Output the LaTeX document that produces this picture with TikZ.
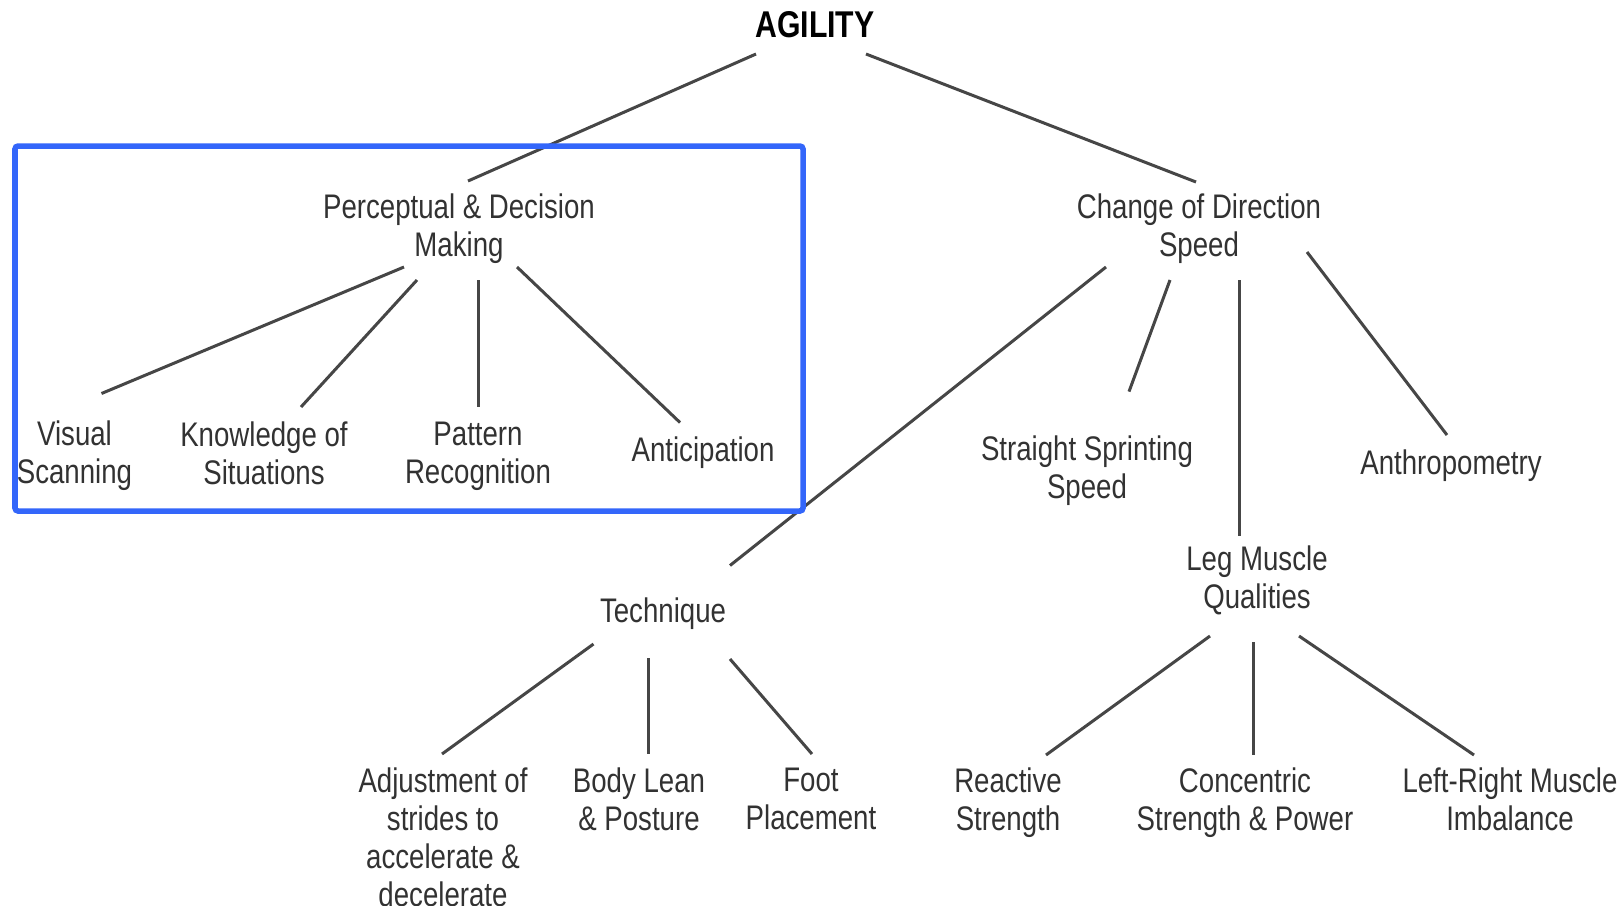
\documentclass[tikz,border=0pt]{standalone}
\usepackage{fontspec}
\setmainfont[FakeStretch=0.81]{Liberation Sans}
\usetikzlibrary{calc}
\definecolor{boxblue}{RGB}{51,102,250}
\definecolor{linegray}{RGB}{70,70,70}
\definecolor{textgray}{RGB}{50,50,50}

\begin{document}
\begin{tikzpicture}[x=0.01cm, y=-0.01cm,
		item/.style={align=center, text=textgray, inner sep=0pt, font=\fontsize{9.7pt}{10.8pt}\selectfont},
		link/.style={linegray, line width=0.03cm}]
		\useasboundingbox (0,0) rectangle (1624,905);

		% top
		\node[inner sep=0pt, font=\fontsize{10.6pt}{12pt}\selectfont\bfseries] (agility) at (815,24.5) {AGILITY};
		\node[item] (perc) at (459,229) {Perceptual \& Decision\\Making};
		\node[item] (cods) at (1199,229) {Change of Direction\\Speed};

		% perceptual branch
		\node[item] (visual) at (74.5,455.5) {Visual\\Scanning};
		\node[item] (knowledge) at (264,453) {Knowledge of\\Situations};
		\node[item] (pattern) at (478,456.5) {Pattern\\Recognition};
		\node[item] (anticip) at (703,453) {Anticipation};

		% change of direction branch
		\node[item] (sprint) at (1087,470.6) {Straight Sprinting\\Speed};
		\node[item] (anthro) at (1451,465.5) {Anthropometry};
		\node[item] (technique) at (663,614) {Technique};
		\node[item] (leg) at (1257,580.5) {Leg Muscle\\Qualities};

		\node[item] (adjust) at (443,837) {Adjustment of\\strides to\\accelerate \&\\decelerate};
		\node[item] (body) at (639,799) {Body Lean\\\& Posture};
		\node[item] (foot) at (811,799) {Foot\\Placement};
		\node[item] (reactive) at (1008,802.5) {Reactive\\Strength};
		\node[item] (concentric) at (1245,802.5) {Concentric\\Strength \& Power};
		\node[item] (leftright) at (1510,799) {Left-Right Muscle\\Imbalance};

		% links
		\draw[link] ($(agility)+(-59,29.5)$) -- ($(perc)+(9,-48)$);
		\draw[link] ($(agility)+(51,29.5)$) -- ($(cods)+(-3,-47)$);

		\draw[link] ($(perc)+(-55,38)$) -- ($(visual)+(27,-62)$);
		\draw[link] ($(perc)+(-42,51)$) -- ($(knowledge)+(37,-46)$);
		\draw[link] ($(perc)+(19.5,51)$) -- ($(pattern)+(0.5,-49.5)$);
		\draw[link] ($(perc)+(58,38)$) -- ($(anticip)+(-23,-30.5)$);

		\draw[link] ($(cods)+(-93,38)$) -- ($(technique)+(67,-48.5)$);
		\draw[link] ($(cods)+(-29,51)$) -- ($(sprint)+(42,-79)$);
		\draw[link] ($(cods)+(40,51)$) -- ($(leg)+(-18,-45)$);
		\draw[link] ($(cods)+(108,23)$) -- ($(anthro)+(-4,-30.5)$);

		\draw[link] ($(technique)+(-69.5,30)$) -- ($(adjust)+(-1,-83)$);
		\draw[link] ($(technique)+(-15,44)$) -- ($(body)+(9,-45)$);
		\draw[link] ($(technique)+(67,45)$) -- ($(foot)+(1,-45)$);

		\draw[link] ($(leg)+(-47,55.5)$) -- ($(reactive)+(38,-47.5)$);
		\draw[link] ($(leg)+(-4,61.5)$) -- ($(concentric)+(8,-47.5)$);
		\draw[link] ($(leg)+(42,55.5)$) -- ($(leftright)+(-36,-44)$);

		% highlight frame
		\draw[boxblue, line width=0.055cm, rounded corners=0.03cm] (15,146) rectangle (803,511);
	\end{tikzpicture}
\end{document}
